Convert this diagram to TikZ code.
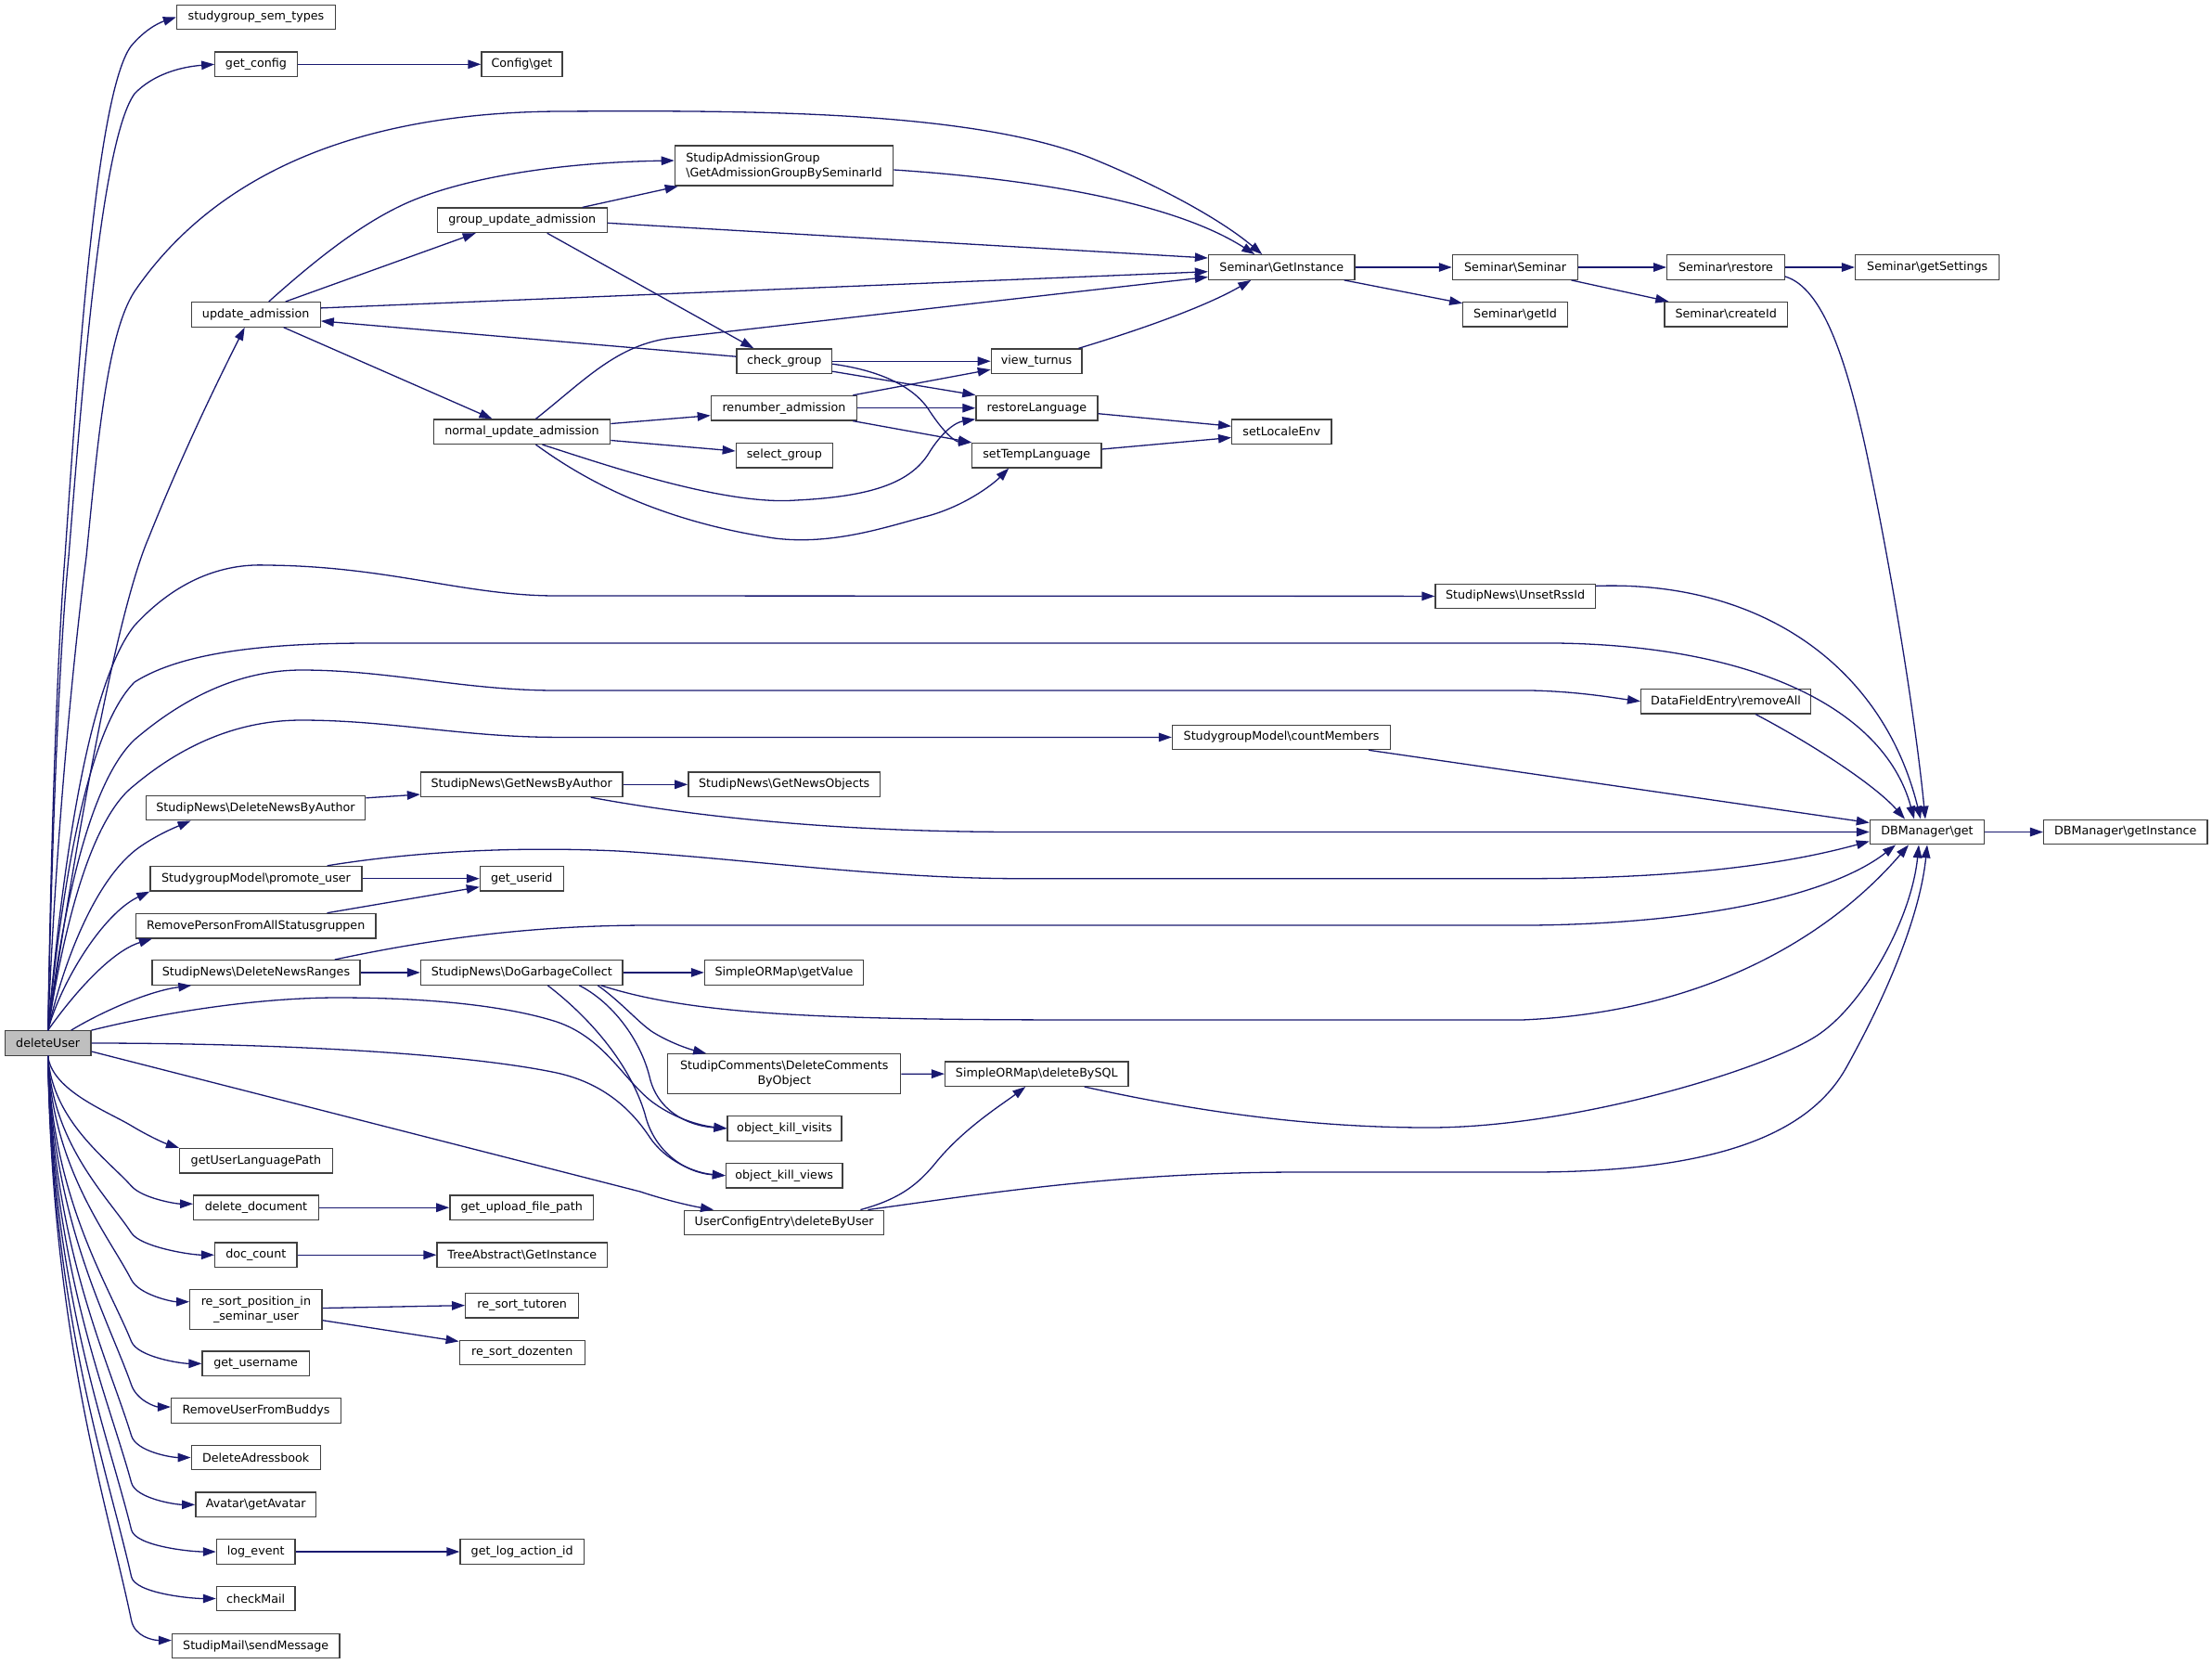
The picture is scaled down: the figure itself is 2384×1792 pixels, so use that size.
\documentclass[tikz,border=0pt]{standalone}
\usepackage{fontspec}
\setmainfont{DejaVu Sans}
\usetikzlibrary{arrows.meta,calc}
\definecolor{edgecol}{RGB}{25,25,112}
\definecolor{boxline}{RGB}{64,64,64}
\definecolor{rootfill}{RGB}{191,191,191}
\begin{document}
\begin{tikzpicture}[x=1pt,y=-1pt,
 box/.style={draw=boxline, line width=1.3pt, fill=white, inner sep=0pt, minimum height=26.5pt, font=\fontsize{12.7}{16}\selectfont},
 edge/.style={draw=edgecol, line width=1.3pt, -{Triangle[length=14pt,width=9.5pt]}}]
\useasboundingbox (0,0) rectangle (2384,1792);
% ---------------- nodes
\node[box,minimum width=92.6pt,fill=rootfill] (dU) at (51.7,1124) {deleteUser};
\node[box,minimum width=171pt] (sst) at (276,18.5) {studygroup\_sem\_types};
\node[box,minimum width=88.5pt] (gcfg) at (276,69.3) {get\_config};
\node[box,minimum width=87pt] (cfg) at (562.5,69.3) {Config\textbackslash get};
\node[box,minimum width=139pt] (ua) at (275.7,338.9) {update\_admission};
\node[box,minimum width=183pt] (gua) at (562.7,237.3) {group\_update\_admission};
\node[box,minimum width=190.4pt] (nua) at (562.5,465.2) {normal\_update\_admission};
\node[box,minimum width=235.3pt,minimum height=43.2pt,align=left] (sag) at (845,178.5) {StudipAdmissionGroup\\\textbackslash GetAdmissionGroupBySeminarId};
\node[box,minimum width=102.5pt] (cg) at (845.3,389.2) {check\_group};
\node[box,minimum width=97.5pt] (vt) at (1117.1,389.2) {view\_turnus};
\node[box,minimum width=157.3pt] (ra) at (845,439.7) {renumber\_admission};
\node[box,minimum width=130.9pt] (rl) at (1117.4,439.7) {restoreLanguage};
\node[box,minimum width=104pt] (sg) at (845.3,490.6) {select\_group};
\node[box,minimum width=139.3pt] (stl) at (1117.3,490.6) {setTempLanguage};
\node[box,minimum width=157.6pt] (sgi) at (1381.3,288) {Seminar\textbackslash GetInstance};
\node[box,minimum width=135.4pt] (ss) at (1633.1,288) {Seminar\textbackslash Seminar};
\node[box,minimum width=112.6pt] (sid) at (1633.1,338.7) {Seminar\textbackslash getId};
\node[box,minimum width=107.2pt] (sle) at (1381.3,465.2) {setLocaleEnv};
\node[box,minimum width=126.7pt] (sre) at (1860,288) {Seminar\textbackslash restore};
\node[box,minimum width=155.2pt] (sgs) at (2077.2,288) {Seminar\textbackslash getSettings};
\node[box,minimum width=132.5pt] (scid) at (1860.2,338.7) {Seminar\textbackslash createId};
\node[box,minimum width=172.2pt] (urss) at (1633.1,642.4) {StudipNews\textbackslash UnsetRssId};
\node[box,minimum width=182.8pt] (dfe) at (1860,755.7) {DataFieldEntry\textbackslash removeAll};
\node[box,minimum width=235pt] (cm) at (1381,794.4) {StudygroupModel\textbackslash countMembers};
\node[box,minimum width=236.5pt] (dnba) at (275.5,870.5) {StudipNews\textbackslash DeleteNewsByAuthor};
\node[box,minimum width=217.6pt] (gnba) at (562.3,845.3) {StudipNews\textbackslash GetNewsByAuthor};
\node[box,minimum width=206.7pt] (gno) at (845.2,845.3) {StudipNews\textbackslash GetNewsObjects};
\node[box,minimum width=228pt] (pu) at (276,946.7) {StudygroupModel\textbackslash promote\_user};
\node[box,minimum width=89.8pt] (gu) at (562.3,946.7) {get\_userid};
\node[box,minimum width=258.3pt] (rpfa) at (275.7,997.6) {RemovePersonFromAllStatusgruppen};
\node[box,minimum width=224.2pt] (dnr) at (276,1047.9) {StudipNews\textbackslash DeleteNewsRanges};
\node[box,minimum width=217.6pt] (dgc) at (562.3,1047.9) {StudipNews\textbackslash DoGarbageCollect};
\node[box,minimum width=171pt] (gv) at (845,1047.9) {SimpleORMap\textbackslash getValue};
\node[box,minimum width=251pt,minimum height=43pt,align=center] (dcbo) at (845.3,1157.2) {StudipComments\textbackslash DeleteComments\\ByObject};
\node[box,minimum width=197.4pt] (dbs) at (1117.3,1157.1) {SimpleORMap\textbackslash deleteBySQL};
\node[box,minimum width=123.2pt] (dbg) at (2077,896.5) {DBManager\textbackslash get};
\node[box,minimum width=176.4pt] (dbi) at (2290.8,896.5) {DBManager\textbackslash getInstance};
\node[box,minimum width=122.9pt] (okvi) at (845.5,1215.9) {object\_kill\_visits};
\node[box,minimum width=125.5pt] (okv) at (845.2,1266.7) {object\_kill\_views};
\node[box,minimum width=215.1pt] (uce) at (845.2,1317.4) {UserConfigEntry\textbackslash deleteByUser};
\node[box,minimum width=164.6pt] (gulp) at (275.9,1250.7) {getUserLanguagePath};
\node[box,minimum width=134.7pt] (dd) at (276,1301.2) {delete\_document};
\node[box,minimum width=154.9pt] (gufp) at (562.3,1301.2) {get\_upload\_file\_path};
\node[box,minimum width=88.5pt] (dc) at (275.8,1352.2) {doc\_count};
\node[box,minimum width=183.2pt] (tai) at (562.7,1352.2) {TreeAbstract\textbackslash GetInstance};
\node[box,minimum width=142.4pt,minimum height=42.9pt,align=center] (rsp) at (275.9,1410.7) {re\_sort\_position\_in\\\_seminar\_user};
\node[box,minimum width=122pt] (rst) at (562.7,1406.6) {re\_sort\_tutoren};
\node[box,minimum width=135pt] (rsd) at (562.7,1457.4) {re\_sort\_dozenten};
\node[box,minimum width=115.2pt] (gun) at (275.7,1469.3) {get\_username};
\node[box,minimum width=182.9pt] (rufb) at (276,1520) {RemoveUserFromBuddys};
\node[box,minimum width=138.9pt] (dab) at (275.7,1570.5) {DeleteAdressbook};
\node[box,minimum width=129.7pt] (av) at (275.7,1621.3) {Avatar\textbackslash getAvatar};
\node[box,minimum width=84.6pt] (le) at (275.7,1672) {log\_event};
\node[box,minimum width=133.4pt] (glai) at (562.7,1672) {get\_log\_action\_id};
\node[box,minimum width=84.6pt] (chm) at (275.7,1722.5) {checkMail};
\node[box,minimum width=180.3pt] (smsg) at (275.7,1773.5) {StudipMail\textbackslash sendMessage};
% ---------------- edges from deleteUser (upwards)
\draw[edge] (dU.north) .. controls (55,900) and (62,700) .. (70,600) .. controls (85,380) and (105,100) .. (141,50) .. controls (155,33) and (170,25) .. (sst.west);
\draw[edge] (dU.north) .. controls (56,900) and (64,700) .. (74,600) .. controls (90,400) and (110,150) .. (145,101) .. controls (165,80) and (195,72) .. (gcfg.west);
\draw[edge] (dU.north) .. controls (60,900) and (80,700) .. (93,600) .. controls (105,480) and (115,360) .. (145,314) .. controls (230,190) and (380,122) .. (600,120) .. controls (800,119) and (1050,118) .. (1180,172) .. controls (1260,205) and (1320,240) .. ($(sgi.north)+(-21,0)$);
\draw[edge] (dU.north) .. controls (90,850) and (130,650) .. (160,580) .. controls (200,480) and (240,400) .. ($(ua.south)+(-12,0)$);
\draw[edge] (dU.north) .. controls (70,900) and (100,730) .. (145,674) .. controls (190,625) and (240,607) .. (287,609) .. controls (420,610) and (500,642) .. (600,642) -- (urss.west);
\draw[edge] (dU.north) .. controls (70,920) and (100,780) .. (145,735) .. controls (200,700) and (300,693) .. (400,693) -- (1650,693) .. controls (1880,690) and (2030,760) .. ($(dbg.north)+(-14,0)$);
\draw[edge] (dU.north) .. controls (70,960) and (100,840) .. (145,797) .. controls (200,750) and (260,722) .. (325,722) .. controls (420,722) and (500,744) .. (600,744) -- (1650,744) .. controls (1700,745) and (1740,752) .. (dfe.west);
\draw[edge] (dU.north) .. controls (70,990) and (100,880) .. (145,846) .. controls (200,800) and (260,776) .. (325,776) .. controls (420,776) and (500,794.4) .. (600,794.4) -- (cm.west);
\draw[edge] (dU.north) .. controls (70,1030) and (105,945) .. (150,913) .. controls (170,899) and (190,891) .. ($(dnba.south west)+(49,0)$);
\draw[edge] (dU.north) .. controls (65,1060) and (110,985) .. (pu.south west);
\draw[edge] (dU.north) .. controls (80,1070) and (120,1025) .. ($(rpfa.south west)+(18,0)$);
\draw[edge] ($(dU.north)+(25,0)$) .. controls (110,1090) and (160,1068) .. ($(dnr.south west)+(43,0)$);
% ---------------- edges from deleteUser (rightwards)
\draw[edge] (dU.north east) .. controls (180,1090) and (280,1075) .. (364,1075) .. controls (470,1075) and (550,1085) .. (600,1101) .. controls (650,1118) and (670,1160) .. (700,1185) .. controls (725,1205) and (755,1213) .. (okvi.west);
\draw[edge] (dU.east) .. controls (300,1124) and (500,1135) .. (600,1156) .. controls (650,1167) and (680,1195) .. (700,1225) .. controls (718,1252) and (750,1264) .. (okv.west);
\draw[edge] ($(dU.east)+(0,9)$) -- (690,1284) .. controls (720,1294) and (748,1300) .. ($(uce.north west)+(32,0)$);
% ---------------- edges from deleteUser (downwards)
\draw[edge] (dU.south) .. controls (56,1175.2) and (116.6,1197.9) .. (141.6,1213) .. controls (157,1222.3) and (175,1231) .. (gulp.north west);
\draw[edge] (dU.south) .. controls (56,1207.7) and (116.6,1249.9) .. (141.6,1278) .. controls (153.6,1291.4) and (190,1297.2) .. ($(dd.west)+(0,-4)$);
\draw[edge] (dU.south) .. controls (56,1232.9) and (116.6,1290.3) .. (141.6,1328.5) .. controls (151.5,1343.6) and (205,1352.2) .. (dc.west);
\draw[edge] (dU.south) .. controls (56,1258.2) and (116.6,1330.7) .. (141.6,1379) .. controls (149.9,1395) and (185,1402.7) .. ($(rsp.west)+(0,-8)$);
\draw[edge] (dU.south) .. controls (56,1291.4) and (116.6,1383.9) .. (141.6,1445.5) .. controls (148.4,1462.2) and (195,1469.3) .. (gun.west);
\draw[edge] (dU.south) .. controls (56,1314.8) and (116.6,1421.3) .. (141.6,1492.3) .. controls (147.6,1509.3) and (168,1516) .. ($(rufb.west)+(0,-4)$);
\draw[edge] (dU.south) .. controls (56,1342.2) and (116.6,1465.1) .. (141.6,1547) .. controls (146.9,1564.2) and (185,1570.5) .. (dab.west);
\draw[edge] (dU.south) .. controls (56,1367.5) and (116.6,1505.5) .. (141.6,1597.6) .. controls (146.3,1615) and (190,1621.3) .. (av.west);
\draw[edge] (dU.south) .. controls (56,1392.9) and (116.6,1546.2) .. (141.6,1648.4) .. controls (145.9,1665.9) and (205,1672) .. (le.west);
\draw[edge] (dU.south) .. controls (56,1418.2) and (116.6,1586.7) .. (141.6,1699) .. controls (145.5,1716.6) and (205,1722.5) .. (chm.west);
\draw[edge] (dU.south) .. controls (56,1441.7) and (116.6,1624.3) .. (141.6,1746) .. controls (145.2,1763.6) and (165,1767.5) .. ($(smsg.west)+(0,-6)$);
% ---------------- admission cluster
\draw[edge] (gcfg.east) -- (cfg.west);
\draw[edge] ($(ua.north)+(14,0)$) .. controls (340,280) and (390,240) .. (440,218) .. controls (500,192) and (600,175) .. ($(sag.west)+(0,-5.5)$);
\draw[edge] ($(ua.north)+(32,0)$) -- ($(gua.south)+(-50,0)$);
\draw[edge] ($(ua.east)+(0,-7)$) -- ($(sgi.west)+(0,4.7)$);
\draw[edge] ($(cg.west)+(0,-5)$) -- ($(ua.east)+(0,7)$);
\draw[edge] ($(ua.south)+(30,0)$) -- ($(nua.north)+(-32,0)$);
\draw[edge] ($(gua.north)+(65,0)$) -- ($(sag.south west)+(4,0)$);
\draw[edge] ($(gua.east)+(0,3)$) -- ($(sgi.west)+(0,-10)$);
\draw[edge] ($(gua.south)+(27,0)$) -- ($(cg.north)+(-33,0)$);
\draw[edge] ($(sag.east)+(0,4.5)$) .. controls (1100,192) and (1260,215) .. ($(sgi.north)+(-29,0)$);
\draw[edge] ($(nua.north)+(15,0)$) .. controls (630,410) and (665,370.8) .. (725,364) .. controls (900,344.1) and (1150,315.4) .. ($(sgi.west)+(0,10.5)$);
\draw[edge] ($(nua.east)+(0,-8.7)$) -- ($(ra.west)+(0,8)$);
\draw[edge] ($(nua.east)+(0,9.3)$) -- ($(sg.west)+(0,-4.6)$);
\draw[edge] ($(nua.south)+(22,0)$) .. controls (650,500) and (780,545) .. (858,539) .. controls (940,535) and (980,520) .. (1000,490) .. controls (1015,465) and (1030,455) .. ($(rl.west)+(0,12)$);
\draw[edge] ($(nua.south)+(15,0)$) .. controls (620,510) and (700,560) .. (835,580) .. controls (900,588) and (960,566) .. (1000,556) .. controls (1040,545) and (1070,522) .. ($(stl.south)+(-30,0)$);
\draw[edge] (cg.east) -- (vt.west);
\draw[edge] ($(cg.east)+(0,11)$) -- ($(rl.west)+(0,-14)$);
\draw[edge] ($(cg.east)+(0,3)$) .. controls (940,398) and (980,412) .. (1000,440) .. controls (1018,468) and (1030,476) .. (stl.north west);
\draw[edge] ($(ra.north east)+(-5,0)$) -- ($(vt.west)+(0,9)$);
\draw[edge] (ra.east) -- (rl.west);
\draw[edge] ($(ra.south east)+(-5,0)$) -- (stl.north west);
\draw[edge] ($(vt.north east)+(-4,0)$) .. controls (1230,355) and (1300,330) .. ($(sgi.south)+(-33,0)$);
\draw[edge] ($(rl.east)+(0,6)$) -- ($(sle.west)+(0,-6)$);
\draw[edge] ($(stl.east)+(0,-6.6)$) -- ($(sle.west)+(0,6.3)$);
% ---------------- Seminar cluster
\draw[edge] (sgi.east) -- (ss.west);
\draw[edge] ($(sgi.south east)+(-12,0)$) -- ($(sid.north west)+(0,2)$);
\draw[edge] (ss.east) -- (sre.west);
\draw[edge] ($(ss.south east)+(-8,0)$) -- ($(scid.north west)+(5,0)$);
\draw[edge] (sre.east) -- (sgs.west);
\draw[edge] ($(sre.east)+(0,10)$) .. controls (1965,310) and (1990,390) .. (2010,480) .. controls (2040,620) and (2065,780) .. ($(dbg.north)+(-2,0)$);
% ---------------- DBManager cluster
\draw[edge] ($(urss.east)+(0,-11)$) .. controls (1900,625) and (2030,720) .. ($(dbg.north)+(-7,0)$);
\draw[edge] ($(dfe.south)+(32,0)$) .. controls (1950,800) and (2020,845) .. ($(dbg.north)+(-24,0)$);
\draw[edge] ($(cm.south east)+(-24,0)$) -- ($(dbg.west)+(0,-10)$);
\draw[edge] ($(gnba.south east)+(-35,0)$) .. controls (750,880) and (900,896.5) .. (1100,896.5) -- (dbg.west);
\draw[edge] ($(pu.north east)+(-38,0)$) .. controls (450,917) and (560,912) .. (666,917) .. controls (800,925) and (950,946.7) .. (1100,946.7) -- (1650,946.7) .. controls (1850,946) and (1950,924) .. ($(dbg.west)+(0,10)$);
\draw[edge] (pu.east) -- (gu.west);
\draw[edge] ($(rpfa.north east)+(-53,0)$) -- ($(gu.west)+(0,9)$);
\draw[edge] ($(dnba.east)+(0,-10.7)$) -- ($(gnba.west)+(0,10.7)$);
\draw[edge] (gnba.east) -- (gno.west);
\draw[edge] (dnr.east) -- (dgc.west);
\draw[edge] ($(dnr.north east)+(-28,0)$) .. controls (450,1015) and (560,997) .. (700,997) -- (1650,997) .. controls (1850,995) and (1980,960) .. ($(dbg.south)+(-34,0)$);
\draw[edge] (dgc.east) -- (gv.west);
\draw[edge] ($(dgc.south east)+(-24,0)$) .. controls (750,1095) and (900,1099) .. (1190,1099) -- (1640,1099) .. controls (1850,1090) and (1980,1000) .. ($(dbg.south)+(-20,0)$);
\draw[edge] ($(dgc.south east)+(-27.5,0)$) .. controls (670,1080) and (690,1104) .. (705,1113) .. controls (725,1125) and (745,1131) .. ($(dcbo.north west)+(42,0)$);
\draw[edge] ($(dgc.south)+(62,0)$) .. controls (660,1080) and (690,1120) .. (700,1160) .. controls (708,1196) and (740,1213) .. (okvi.west);
\draw[edge] ($(dgc.south)+(28,0)$) .. controls (640,1100) and (680,1150) .. (695,1200) .. controls (705,1242) and (740,1264) .. (okv.west);
\draw[edge] (dcbo.east) -- (dbs.west);
\draw[edge] ($(dbs.south east)+(-48,0)$) .. controls (1300,1200) and (1420,1215) .. (1540,1215) .. controls (1700,1215) and (1910,1150) .. (1961,1114) .. controls (2010,1080) and (2060,990) .. ($(dbg.south)+(-9,0)$);
\draw[edge] ($(uce.north east)+(-26,0)$) .. controls (970,1292) and (990,1276) .. (1010,1251) .. controls (1040,1215) and (1080,1190) .. ($(dbs.south)+(-12,0)$);
\draw[edge] ($(uce.north east)+(-18,0)$) .. controls (1050,1288) and (1200,1263) .. (1400,1263) -- (1640,1263) .. controls (1850,1264) and (1950,1222) .. (1990,1150) .. controls (2040,1060) and (2070,980) .. (dbg.south);
\draw[edge] (dbg.east) -- (dbi.west);
% ---------------- lower helpers
\draw[edge] (dd.east) -- (gufp.west);
\draw[edge] (dc.east) -- (tai.west);
\draw[edge] ($(rsp.east)+(0,-1.2)$) -- (rst.west);
\draw[edge] ($(rsp.east)+(0,12)$) -- ($(rsd.west)+(0,-12)$);
\draw[edge] (le.east) -- (glai.west);
\end{tikzpicture}
\end{document}
